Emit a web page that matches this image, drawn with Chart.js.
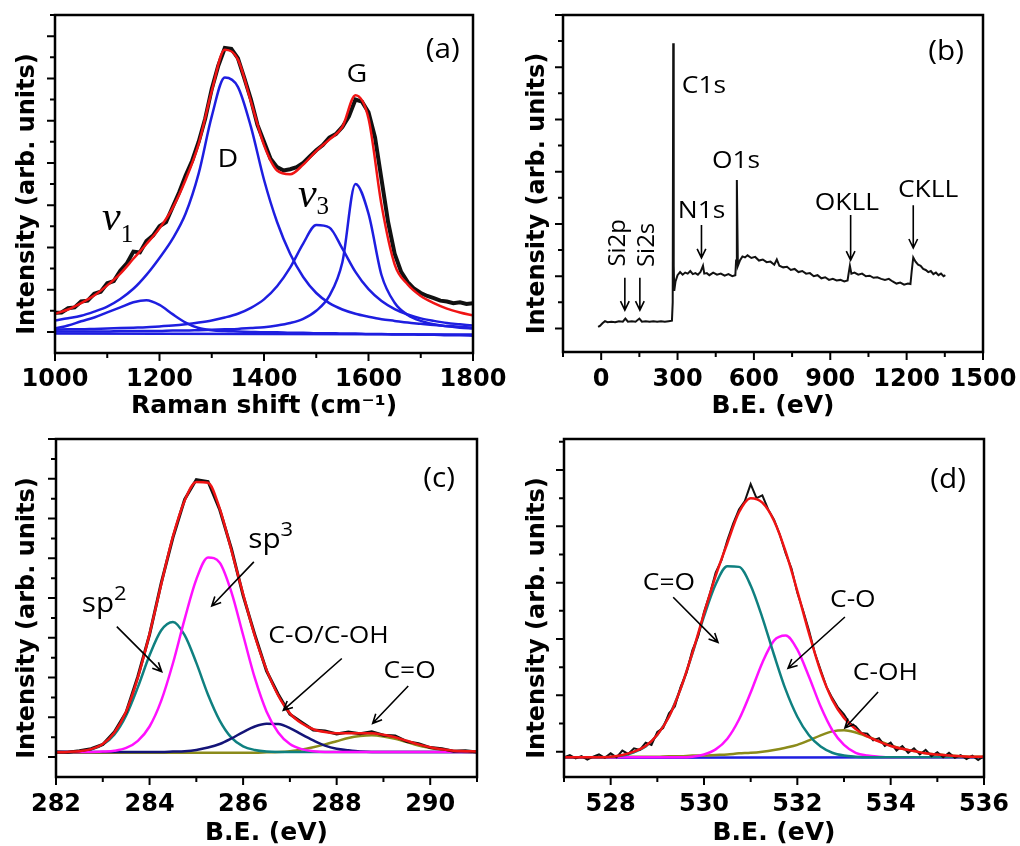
<!DOCTYPE html>
<html>
<head>
<meta charset="utf-8">
<script src="https://cdn.jsdelivr.net/npm/chart.js@4.4.1/dist/chart.umd.min.js"></script>
<style>
  html, body { margin: 0; padding: 0; background: #fff; }
  #wrap { position: relative; width: 1020px; height: 846px; overflow: hidden; }
  #wrap canvas { position: absolute; }
</style>
</head>
<body>
<div id="wrap">
  <canvas id="panelA" width="510" height="423" style="left:0;top:0"></canvas>
  <canvas id="panelB" width="510" height="423" style="left:510px;top:0"></canvas>
  <canvas id="panelC" width="510" height="423" style="left:0;top:423px"></canvas>
  <canvas id="panelD" width="510" height="423" style="left:510px;top:423px"></canvas>
</div>
<script>
// (a) Raman spectrum, fit and components
const ramanShift = [1000, 1025, 1050, 1075, 1100, 1125, 1150, 1175, 1200, 1225, 1250, 1275, 1300, 1325, 1350, 1375, 1400,
  1425, 1450, 1475, 1500, 1525, 1550, 1575, 1600, 1625, 1650, 1675, 1700, 1725, 1750, 1775, 1800];
const ramanFit = [0.43, 0.53, 0.68, 0.86, 1.10, 1.38, 1.73, 2.08, 2.45, 2.93, 3.60, 4.45, 5.70, 6.68, 6.45, 5.45, 4.42,
  3.82, 3.73, 3.96, 4.28, 4.55, 4.85, 5.60, 5.05, 3.00, 1.60, 1.12, 0.85, 0.68, 0.55, 0.46, 0.39];
const ramanD = [0.27, 0.32, 0.38, 0.48, 0.60, 0.78, 1.02, 1.35, 1.75, 2.20, 2.80, 3.75, 5.10, 6.02, 5.80, 4.85, 3.60,
  2.60, 1.85, 1.30, 0.92, 0.68, 0.53, 0.43, 0.36, 0.30, 0.26, 0.22, 0.19, 0.16, 0.14, 0.12, 0.10];
const ramanV1 = [0.08, 0.15, 0.25, 0.34, 0.46, 0.58, 0.70, 0.75, 0.64, 0.42, 0.22, 0.09, 0.04, 0.02, 0.01, 0.00, -0.01,
  -0.01, -0.02, -0.02, -0.03, -0.03, -0.04, -0.04, -0.05, -0.05, -0.06, -0.06, -0.07, -0.07, -0.08, -0.08, -0.09];
const ramanV3 = [0.05, 0.06, 0.06, 0.07, 0.08, 0.09, 0.10, 0.11, 0.13, 0.15, 0.18, 0.22, 0.27, 0.34, 0.43, 0.57, 0.77,
  1.08, 1.52, 2.09, 2.53, 2.47, 1.97, 1.42, 1.01, 0.73, 0.54, 0.41, 0.32, 0.26, 0.21, 0.18, 0.15];
const ramanG = [0.01, 0.01, 0.01, 0.01, 0.01, 0.02, 0.02, 0.02, 0.02, 0.03, 0.03, 0.04, 0.05, 0.06, 0.07, 0.09, 0.11,
  0.15, 0.21, 0.31, 0.50, 0.85, 1.65, 3.50, 2.80, 1.34, 0.69, 0.40, 0.26, 0.18, 0.13, 0.10, 0.08];
const ramanBaseShift = [1000, 1800];
const ramanBase = [-0.04, -0.06];
const ramanRawShift = [1000, 1012.5, 1025, 1037.5, 1050, 1062.5, 1075, 1087.5, 1100, 1112.5, 1125, 1137.5, 1150, 1162.5,
  1175, 1187.5, 1200, 1212.5, 1225, 1237.5, 1250, 1262.5, 1275, 1287.5, 1300, 1312.5, 1325, 1337.5, 1350, 1362.5,
  1375, 1387.5, 1400, 1412.5, 1425, 1437.5, 1450, 1462.5, 1475, 1487.5, 1500, 1512.5, 1525, 1537.5, 1550, 1562.5,
  1575, 1587.5, 1600, 1612.5, 1625, 1637.5, 1650, 1662.5, 1675, 1687.5, 1700, 1712.5, 1725, 1737.5, 1750, 1762.5,
  1775, 1787.5, 1800];
const ramanRaw = [0.45, 0.46, 0.56, 0.58, 0.72, 0.74, 0.90, 0.95, 1.15, 1.20, 1.45, 1.62, 1.90, 1.88,
  2.15, 2.28, 2.50, 2.60, 2.95, 3.30, 3.70, 4.05, 4.50, 5.05, 5.75, 6.30, 6.72, 6.70, 6.48, 6.00,
  5.50, 4.90, 4.50, 4.10, 3.90, 3.82, 3.85, 3.90, 4.00, 4.15, 4.30, 4.42, 4.60, 4.68, 4.85, 5.10,
  5.50, 5.45, 5.20, 4.60, 3.60, 2.60, 1.85, 1.42, 1.18, 1.02, 0.92, 0.85, 0.80, 0.74, 0.72, 0.68,
  0.70, 0.66, 0.68];
const ramanLabels = [1000, 1200, 1400, 1600, 1800];

// (b) XPS survey
const surveyBE = [-12, -5, 5, 15, 25, 40, 55, 70, 85, 95,
  105, 120, 135, 150, 160, 175, 190, 205, 220, 235,
  250, 265, 278, 281, 283, 285, 287, 292, 300, 310,
  320, 330, 340, 350, 360, 370, 380, 390, 400, 405,
  415, 425, 440, 455, 470, 485, 500, 515, 527, 530,
  533, 537, 545, 555, 565, 575, 590, 605, 620, 635,
  650, 665, 680, 690, 700, 715, 730, 745, 760, 775,
  790, 805, 820, 835, 850, 865, 880, 895, 910, 925,
  940, 955, 968, 972, 977, 983, 995, 1010, 1025, 1040,
  1055, 1070, 1085, 1100, 1115, 1130, 1145, 1160, 1175, 1190,
  1205, 1215, 1220, 1226, 1235, 1245, 1255, 1265, 1275, 1285,
  1295, 1305, 1315, 1325, 1335, 1345, 1352];
const surveyCounts = [0.03, 0.05, 0.10, 0.14, 0.12, 0.13, 0.12, 0.14, 0.13, 0.19,
  0.13, 0.14, 0.13, 0.19, 0.13, 0.14, 0.13, 0.14, 0.13, 0.14,
  0.13, 0.14, 0.15, 0.50, 5.46, 1.20, 0.72, 0.90, 1.02, 1.08,
  1.03, 1.07, 1.05, 1.10, 1.04, 1.06, 1.03, 1.08, 1.20, 1.05,
  1.06, 1.02, 1.07, 1.03, 1.05, 1.01, 1.04, 1.00, 1.02, 1.30,
  2.84, 1.20, 1.30, 1.38, 1.36, 1.40, 1.35, 1.37, 1.30, 1.32,
  1.27, 1.28, 1.22, 1.32, 1.20, 1.17, 1.18, 1.12, 1.14, 1.08,
  1.10, 1.05, 1.06, 1.00, 1.02, 0.96, 0.98, 0.93, 0.95, 0.92,
  0.93, 0.90, 0.92, 1.05, 1.20, 1.05, 1.07, 1.03, 1.05, 1.00,
  1.01, 0.97, 0.98, 0.95, 0.93, 0.95, 0.90, 0.86, 0.88, 0.84,
  0.86, 0.85, 1.10, 1.36, 1.28, 1.22, 1.20, 1.14, 1.12, 1.08,
  1.10, 1.04, 1.07, 1.02, 1.05, 1.00, 1.02];
const surveyLabels = [0, 300, 600, 900, 1200, 1500];

// (c) C1s high resolution
const c1sBE = [282, 282.25, 282.5, 282.75, 283, 283.25, 283.5, 283.75, 284, 284.25, 284.5, 284.75, 285, 285.25,
  285.5, 285.75, 286, 286.25, 286.5, 286.75, 287, 287.25, 287.5, 287.75, 288, 288.25, 288.5, 288.75, 289,
  289.25, 289.5, 289.75, 290, 290.25, 290.5, 290.75, 291];
const c1sFit = [0.12, 0.13, 0.15, 0.20, 0.33, 0.62, 1.15, 2.00, 3.10, 4.35, 5.55, 6.45, 6.92, 6.90,
  6.25, 5.20, 4.10, 3.05, 2.20, 1.55, 1.10, 0.85, 0.70, 0.63, 0.60, 0.60, 0.60, 0.60, 0.56,
  0.50, 0.41, 0.32, 0.25, 0.20, 0.16, 0.15, 0.14];
const c1sRaw = [0.13, 0.12, 0.16, 0.21, 0.32, 0.64, 1.13, 2.03, 3.08, 4.38, 5.52, 6.48, 6.98, 6.93,
  6.22, 5.24, 4.06, 3.08, 2.17, 1.58, 1.08, 0.88, 0.68, 0.66, 0.58, 0.63, 0.59, 0.64, 0.55,
  0.53, 0.39, 0.34, 0.24, 0.21, 0.15, 0.16, 0.13];
const c1sSp2 = [0.13, 0.13, 0.15, 0.19, 0.31, 0.57, 1.05, 1.76, 2.56, 3.19, 3.40, 3.07, 2.37, 1.57,
  0.92, 0.49, 0.27, 0.18, 0.14, 0.13, 0.13, 0.13, 0.13, 0.13, 0.13, 0.13, 0.13, 0.13, 0.13,
  0.13, 0.13, 0.13, 0.13, 0.13, 0.13, 0.13, 0.13];
const c1sSp3 = [0.13, 0.13, 0.13, 0.13, 0.14, 0.16, 0.23, 0.41, 0.77, 1.42, 2.36, 3.47, 4.47, 5.02,
  4.89, 4.15, 3.07, 1.99, 1.15, 0.62, 0.33, 0.20, 0.15, 0.13, 0.13, 0.13, 0.13, 0.13, 0.13,
  0.13, 0.13, 0.13, 0.13, 0.13, 0.13, 0.13, 0.13];
const c1sCO = [0.13, 0.13, 0.13, 0.13, 0.13, 0.13, 0.13, 0.13, 0.13, 0.13, 0.14, 0.15, 0.18, 0.24,
  0.33, 0.47, 0.63, 0.77, 0.84, 0.83, 0.73, 0.57, 0.42, 0.29, 0.21, 0.17, 0.14, 0.13, 0.13,
  0.13, 0.13, 0.13, 0.13, 0.13, 0.13, 0.13, 0.13];
const c1sCdO = [0.11, 0.11, 0.11, 0.11, 0.11, 0.11, 0.11, 0.11, 0.11, 0.11, 0.11, 0.11, 0.11, 0.11,
  0.11, 0.11, 0.11, 0.11, 0.12, 0.13, 0.15, 0.19, 0.25, 0.32, 0.40, 0.48, 0.53, 0.55, 0.52,
  0.46, 0.38, 0.29, 0.23, 0.18, 0.14, 0.13, 0.12];
const c1sLabels = [282, 284, 286, 288, 290];

// (d) O1s high resolution
const o1sBE = [527, 527.25, 527.5, 527.75, 528, 528.25, 528.5, 528.75, 529, 529.25, 529.5, 529.75, 530, 530.25,
  530.5, 530.75, 531, 531.25, 531.5, 531.75, 532, 532.25, 532.5, 532.75, 533, 533.25, 533.5, 533.75, 534,
  534.25, 534.5, 534.75, 535, 535.25, 535.5, 535.75, 536];
const o1sFit = [-0.10, -0.10, -0.10, -0.10, -0.09, -0.06, 0.00, 0.10, 0.30, 0.62, 1.12, 1.75, 2.45, 3.12,
  3.70, 4.25, 4.50, 4.42, 4.10, 3.55, 2.85, 2.10, 1.42, 0.92, 0.60, 0.40, 0.27, 0.18, 0.10,
  0.05, 0.01, -0.03, -0.05, -0.07, -0.08, -0.09, -0.09];
const o1sCdO = [-0.10, -0.10, -0.10, -0.10, -0.09, -0.07, -0.01, 0.09, 0.30, 0.63, 1.12, 1.74, 2.40, 2.97,
  3.29, 3.28, 2.95, 2.38, 1.72, 1.10, 0.62, 0.29, 0.09, -0.02, -0.07, -0.09, -0.10, -0.10, -0.10,
  -0.10, -0.10, -0.10, -0.10, -0.10, -0.10, -0.10, -0.10];
const o1sCO = [-0.10, -0.10, -0.10, -0.10, -0.10, -0.10, -0.10, -0.10, -0.10, -0.10, -0.10, -0.09, -0.05, 0.04,
  0.23, 0.57, 1.05, 1.58, 1.97, 2.06, 1.81, 1.33, 0.80, 0.38, 0.12, -0.02, -0.07, -0.09, -0.10,
  -0.10, -0.10, -0.10, -0.10, -0.10, -0.10, -0.10, -0.10];
const o1sCOH = [-0.10, -0.10, -0.10, -0.10, -0.10, -0.09, -0.09, -0.09, -0.09, -0.08, -0.08, -0.07, -0.07, -0.06,
  -0.05, -0.03, -0.02, 0.00, 0.03, 0.07, 0.12, 0.20, 0.29, 0.36, 0.38, 0.34, 0.27, 0.19, 0.11,
  0.05, 0.01, -0.03, -0.05, -0.07, -0.08, -0.09, -0.09];
const o1sBaseBE = [527, 536];
const o1sBase = [-0.11, -0.10];
const o1sRawBE = [527, 527.125, 527.25, 527.375, 527.5, 527.625, 527.75, 527.875, 528, 528.125, 528.25, 528.375,
  528.5, 528.625, 528.75, 528.875, 529, 529.125, 529.25, 529.375, 529.5, 529.625, 529.75, 529.875, 530, 530.125,
  530.25, 530.375, 530.5, 530.625, 530.75, 530.875, 531, 531.125, 531.25, 531.375, 531.5, 531.625, 531.75,
  531.875, 532, 532.125, 532.25, 532.375, 532.5, 532.625, 532.75, 532.875, 533, 533.125, 533.25, 533.375,
  533.5, 533.625, 533.75, 533.875, 534, 534.125, 534.25, 534.375, 534.5, 534.625, 534.75, 534.875, 535,
  535.125, 535.25, 535.375, 535.5, 535.625, 535.75, 535.875, 536];
const o1sRaw = [-0.10, -0.06, -0.12, -0.08, -0.14, -0.09, -0.05, -0.11, -0.03, -0.10, 0.02, -0.04,
  0.06, 0.03, 0.16, 0.12, 0.35, 0.42, 0.68, 0.80, 1.15, 1.40, 1.80, 2.05, 2.48, 2.80,
  3.18, 3.40, 3.75, 4.05, 4.30, 4.45, 4.75, 4.50, 4.55, 4.30, 4.12, 3.85, 3.52,
  3.25, 2.82, 2.50, 2.15, 1.75, 1.45, 1.15, 0.95, 0.78, 0.66, 0.50, 0.45, 0.33,
  0.32, 0.20, 0.24, 0.10, 0.16, 0.02, 0.10, -0.02, 0.06, -0.05, 0.03, -0.08, -0.01,
  -0.10, -0.02, -0.11, -0.06, -0.13, -0.07, -0.15, -0.08];
const o1sLabels = [528, 530, 532, 534, 536];

const RED = '#f01414', BLUE = '#1e1ee0', BLACK = '#111111', TEAL = '#0f8080',
  MAGENTA = '#ff10ff', NAVY = '#141478', OLIVE = '#8b8b1a';
const BOLD = '"DejaVu Sans", sans-serif';
const SANS = '"Open Sans", sans-serif';
const SERIF = '"Liberation Serif", serif';
const Y_TITLE = 'Intensity (arb. units)';

const pts = (xs, ys) => xs.map((x, i) => ({ x, y: ys[i] }));
const steps = (lo, hi, step) => {
  const out = [];
  for (let v = lo; v <= hi + 1e-9; v += step) out.push(Math.round(v * 1000) / 1000);
  return out;
};

function line(xs, ys, color, width, order, smooth) {
  return {
    data: pts(xs, ys),
    borderColor: color,
    borderWidth: width,
    pointRadius: 0,
    fill: false,
    order,
    tension: 0,
    cubicInterpolationMode: smooth ? 'monotone' : 'default'
  };
}

// frame, outward ticks (longer on labelled / whole ticks) and the y title
const frameTicks = {
  id: 'frameTicks',
  afterDraw(chart) {
    const { ctx, chartArea: a, scales: { x, y } } = chart;
    ctx.save();
    ctx.strokeStyle = '#000';
    ctx.lineWidth = 2;
    ctx.beginPath();
    x.ticks.forEach(t => {
      const px = x.getPixelForValue(t.value);
      const len = t.label ? 8 : 5;
      ctx.moveTo(px, a.bottom);
      ctx.lineTo(px, a.bottom + len);
    });
    y.ticks.forEach(t => {
      const py = y.getPixelForValue(t.value);
      const len = Math.abs(t.value - Math.round(t.value)) < 1e-6 ? 8 : 5;
      ctx.moveTo(a.left, py);
      ctx.lineTo(a.left - len, py);
    });
    ctx.stroke();
    ctx.lineWidth = 2.5;
    ctx.strokeRect(a.left, a.top, a.width, a.height);

    ctx.translate(28, (a.top + a.bottom) / 2 + 10);
    ctx.rotate(-Math.PI / 2);
    ctx.fillStyle = '#000';
    ctx.font = `bold 24px ${BOLD}`;
    ctx.textAlign = 'center';
    ctx.textBaseline = 'middle';
    ctx.fillText(Y_TITLE, 0, 0);
    ctx.restore();
  }
};

// text labels and arrows, placed in data coordinates
function notes(items) {
  return {
    id: 'notes',
    afterDatasetsDraw(chart) {
      const { ctx, scales: { x, y } } = chart;
      ctx.save();
      ctx.fillStyle = '#000';
      ctx.strokeStyle = '#000';
      items.forEach(n => {
        if (n.arrow) {
          const x1 = x.getPixelForValue(n.arrow[0]), y1 = y.getPixelForValue(n.arrow[1]);
          const x2 = x.getPixelForValue(n.arrow[2]), y2 = y.getPixelForValue(n.arrow[3]);
          const ang = Math.atan2(y2 - y1, x2 - x1), h = 10;
          ctx.lineWidth = 1.6;
          ctx.beginPath();
          ctx.moveTo(x1, y1);
          ctx.lineTo(x2, y2);
          ctx.moveTo(x2 - h * Math.cos(ang - 0.45), y2 - h * Math.sin(ang - 0.45));
          ctx.lineTo(x2, y2);
          ctx.lineTo(x2 - h * Math.cos(ang + 0.45), y2 - h * Math.sin(ang + 0.45));
          ctx.stroke();
          return;
        }
        ctx.save();
        ctx.translate(x.getPixelForValue(n.x), y.getPixelForValue(n.y));
        if (n.rot) ctx.rotate(n.rot);
        else ctx.scale(n.sx || 1.1, 1);
        ctx.font = n.font;
        ctx.textAlign = n.align || 'left';
        ctx.textBaseline = n.base || 'alphabetic';
        ctx.fillText(n.text, 0, 0);
        if (n.small) {
          const w = ctx.measureText(n.text).width;
          ctx.font = n.small;
          ctx.textAlign = 'left';
          ctx.fillText(n.tail, w + (n.gap || 0), n.shift);
        }
        ctx.restore();
      });
      ctx.restore();
    }
  };
}

function makeChart(id, cfg) {
  const area = cfg.area;
  return new Chart(document.getElementById(id), {
    type: 'line',
    data: { datasets: cfg.datasets },
    options: {
      responsive: false,
      animation: false,
      devicePixelRatio: 1,
      events: [],
      layout: { padding: { left: 0, top: area.top, right: 510 - area.right, bottom: 0 } },
      plugins: { legend: { display: false }, tooltip: { enabled: false } },
      scales: {
        x: {
          type: 'linear',
          min: cfg.xMin,
          max: cfg.xMax,
          afterBuildTicks: s => { s.ticks = steps(cfg.xMin, cfg.xMax, cfg.xStep).map(v => ({ value: v })); },
          afterFit: s => {
            s.height = 423 - area.bottom;
            s.paddingLeft = 0;
            s.paddingRight = 0;
          },
          grid: { display: false, drawTicks: false },
          border: { display: false },
          ticks: {
            autoSkip: false,
            maxRotation: 0,
            padding: cfg.tickPad,
            color: '#000',
            font: { family: BOLD, weight: 'bold', size: 24 },
            callback: v => cfg.xLabels.includes(v) ? String(v) : ''
          },
          title: {
            display: true,
            text: cfg.xTitle,
            color: '#000',
            font: { family: BOLD, weight: 'bold', size: 25 },
            padding: { top: 0, bottom: cfg.titlePad }
          }
        },
        y: {
          min: cfg.yMin,
          max: cfg.yMax,
          afterBuildTicks: s => { s.ticks = steps(0, cfg.yMax, 0.5).map(v => ({ value: v })); },
          afterFit: s => { s.width = area.left; },
          grid: { display: false, drawTicks: false },
          border: { display: false },
          ticks: { display: false },
          title: { display: false }
        }
      }
    },
    plugins: [frameTicks, notes(cfg.notes)]
  });
}

makeChart('panelA', {
  area: { left: 55, right: 473, top: 15, bottom: 353 },
  xMin: 1000, xMax: 1800, xStep: 100, xLabels: ramanLabels,
  yMin: -0.5, yMax: 7.5,
  xTitle: 'Raman shift (cm\u207B\u00B9)', tickPad: 12, titlePad: 2,
  datasets: [
    line(ramanShift, ramanFit, RED, 2.5, 0, true),
    line(ramanRawShift, ramanRaw, BLACK, 4, 1, false),
    line(ramanShift, ramanD, BLUE, 2.5, 2, true),
    line(ramanShift, ramanV1, BLUE, 2.5, 2, true),
    line(ramanShift, ramanV3, BLUE, 2.5, 2, true),
    line(ramanShift, ramanG, BLUE, 2.5, 2, true),
    line(ramanBaseShift, ramanBase, BLUE, 2.5, 2, false)
  ],
  notes: [
    { text: '(a)', x: 1742, y: 6.66, font: `27px ${SANS}`, align: 'center', base: 'middle' },
    { text: 'D', x: 1331, y: 4.08, font: `26px ${SANS}`, align: 'center', base: 'middle' },
    { text: 'G', x: 1578, y: 6.09, font: `26px ${SANS}`, align: 'center', base: 'middle' },
    { text: 'v', x: 1090, y: 2.40, font: `italic 42px ${SERIF}`, sx: 1, tail: '1', small: `25px ${SERIF}`, shift: 12 },
    { text: 'v', x: 1465, y: 2.95, font: `italic 42px ${SERIF}`, sx: 1, tail: '3', small: `25px ${SERIF}`, shift: 7 }
  ]
});

makeChart('panelB', {
  area: { left: 53, right: 473, top: 15, bottom: 352 },
  xMin: -150, xMax: 1500, xStep: 150, xLabels: surveyLabels,
  yMin: -0.45, yMax: 6.0,
  xTitle: 'B.E. (eV)', tickPad: 13, titlePad: 2,
  datasets: [
    line(surveyBE, surveyCounts, BLACK, 2, 0, false)
  ],
  notes: [
    { text: '(b)', x: 1355, y: 5.29, font: `27px ${SANS}`, align: 'center', base: 'middle' },
    { text: 'C1s', x: 317, y: 4.51, font: `24px ${SANS}` },
    { text: 'O1s', x: 435, y: 3.07, font: `24px ${SANS}` },
    { text: 'N1s', x: 301, y: 2.11, font: `24px ${SANS}` },
    { text: 'OKLL', x: 839, y: 2.27, font: `24px ${SANS}` },
    { text: 'CKLL', x: 1166, y: 2.52, font: `24px ${SANS}` },
    { text: 'Si2p', x: 65, y: 1.64, font: `24px ${SANS}`, rot: -Math.PI / 2, align: 'center', base: 'middle' },
    { text: 'Si2s', x: 180, y: 1.60, font: `24px ${SANS}`, rot: -Math.PI / 2, align: 'center', base: 'middle' },
    { arrow: [394, 1.98, 394, 1.35] },
    { arrow: [980, 2.17, 980, 1.31] },
    { arrow: [1226, 2.36, 1226, 1.54] },
    { arrow: [93, 0.97, 93, 0.35] },
    { arrow: [152, 0.97, 152, 0.35] }
  ]
});

makeChart('panelC', {
  area: { left: 56, right: 477, top: 16, bottom: 354 },
  xMin: 282, xMax: 291, xStep: 1, xLabels: c1sLabels,
  yMin: -0.5, yMax: 8,
  xTitle: 'B.E. (eV)', tickPad: 13, titlePad: -2,
  datasets: [
    line(c1sBE, c1sFit, RED, 2.5, 0, true),
    line(c1sBE, c1sRaw, BLACK, 3, 1, false),
    line(c1sBE, c1sSp3, MAGENTA, 2.5, 2, true),
    line(c1sBE, c1sSp2, TEAL, 2.5, 3, true),
    line(c1sBE, c1sCO, NAVY, 2.5, 2, true),
    line(c1sBE, c1sCdO, OLIVE, 2.5, 4, true)
  ],
  notes: [
    { text: '(c)', x: 290.19, y: 6.99, font: `27px ${SANS}`, align: 'center', base: 'middle' },
    { text: 'sp', x: 282.55, y: 3.65, font: `27px ${SANS}`, tail: '2', small: `20px ${SANS}`, shift: -12 },
    { arrow: [283.30, 3.28, 284.26, 2.15] },
    { text: 'sp', x: 286.11, y: 5.25, font: `27px ${SANS}`, tail: '3', small: `20px ${SANS}`, shift: -12 },
    { arrow: [286.23, 4.91, 285.33, 3.80] },
    { text: 'C-O/C-OH', x: 286.54, y: 2.86, font: `24px ${SANS}` },
    { arrow: [288.11, 2.48, 286.86, 1.18] },
    { text: 'C=O', x: 289.0, y: 1.98, font: `24px ${SANS}` },
    { arrow: [289.53, 1.79, 288.77, 0.85] }
  ]
});

makeChart('panelD', {
  area: { left: 54, right: 474, top: 16, bottom: 354 },
  xMin: 527, xMax: 536, xStep: 1, xLabels: o1sLabels,
  yMin: -0.45, yMax: 5.55,
  xTitle: 'B.E. (eV)', tickPad: 13, titlePad: -2,
  datasets: [
    line(o1sBE, o1sFit, RED, 2.5, 0, true),
    line(o1sRawBE, o1sRaw, BLACK, 2, 1, false),
    line(o1sBE, o1sCdO, TEAL, 2.5, 2, true),
    line(o1sBE, o1sCO, MAGENTA, 2.5, 2, true),
    line(o1sBE, o1sCOH, OLIVE, 2.5, 2, true),
    line(o1sBaseBE, o1sBase, BLUE, 2.5, 3, false)
  ],
  notes: [
    { text: '(d)', x: 535.23, y: 4.82, font: `27px ${SANS}`, align: 'center', base: 'middle' },
    { text: 'C=O', x: 528.69, y: 2.87, font: `24px ${SANS}` },
    { arrow: [529.34, 2.74, 530.30, 1.94] },
    { text: 'C-O', x: 532.70, y: 2.57, font: `24px ${SANS}` },
    { arrow: [533.02, 2.39, 531.80, 1.48] },
    { text: 'C-OH', x: 533.19, y: 1.27, font: `24px ${SANS}` },
    { arrow: [533.73, 1.06, 533.02, 0.42] }
  ]
});
</script>
</body>
</html>
